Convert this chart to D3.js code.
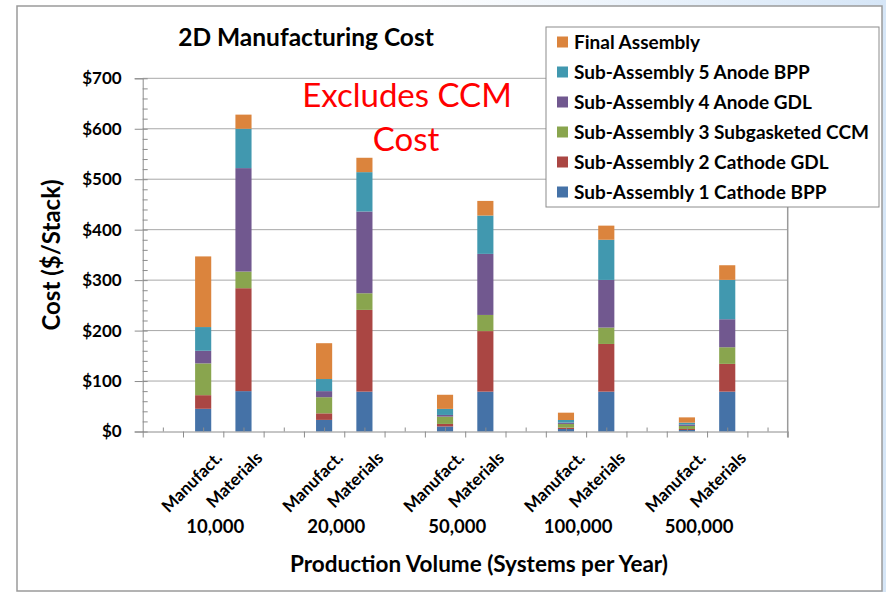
<!DOCTYPE html>
<html>
<head>
<meta charset="utf-8">
<script src="https://cdn.jsdelivr.net/npm/d3@7"></script>
<style>
  body { margin: 0; background: #fff; }
  text { font-family: Lato, "Open Sans", sans-serif; }
</style>
</head>
<body>
<div id="d3_container"></div>
<script>

// data ($/stack)
const volumes = ["10,000", "20,000", "50,000", "100,000", "500,000"];
const kinds = ["Manufact.", "Materials"];
const seriesNames = [
    "Sub-Assembly 1 Cathode BPP",
    "Sub-Assembly 2 Cathode GDL",
    "Sub-Assembly 3 Subgasketed CCM",
    "Sub-Assembly 4 Anode GDL",
    "Sub-Assembly 5 Anode BPP",
    "Final Assembly"
];
// order: 10k manuf, 10k mat, 20k manuf, 20k mat, ...
const cathodeBPP   = [45, 80, 23, 79, 10, 79, 5, 79, 3, 79];
const cathodeGDL   = [27, 204, 13, 162, 5, 120, 2.6, 94.5, 2, 55];
const subgasketCCM = [63, 33, 32, 33, 14.5, 32, 7.4, 32.5, 6, 33];
const anodeGDL     = [25, 205, 12, 162, 3.3, 121, 2.6, 94.4, 3, 55.5];
const anodeBPP     = [47, 78, 24, 78, 12, 76, 5.2, 79.6, 3.5, 78];
const finalAssy    = [140, 28, 71, 28.5, 28, 29, 14.5, 28, 10.5, 29];
const yTicks = [0, 100, 200, 300, 400, 500, 600, 700];

const colors = ["#4572A7", "#AA4643", "#89A54E", "#71588F", "#4198AF", "#DB843D"];
const seriesValues = [cathodeBPP, cathodeGDL, subgasketCCM, anodeGDL, anodeBPP, finalAssy];

const width = 886, height = 592;
const margin = {top: 78.3, bottom: 160.5, left: 142.7, right: 98.3};

const svg = d3.select("#d3_container").append("svg")
    .attr("width", width)
    .attr("height", height);

// slide background + chart frame
const grad = svg.append("defs").append("linearGradient")
    .attr("id", "bg").attr("x1", "0").attr("x2", "1").attr("y1", "0").attr("y2", "0");
grad.append("stop").attr("offset", "0.45").attr("stop-color", "#ffffff");
grad.append("stop").attr("offset", "1").attr("stop-color", "#d6e6f7");
svg.append("rect").attr("width", width).attr("height", height).attr("fill", "url(#bg)");
svg.append("rect")
    .attr("x", 17).attr("y", 6).attr("width", 865).attr("height", 585)
    .attr("fill", "#fff").attr("stroke", "#9a9a9a").attr("stroke-width", 1.5);

// 16 slots: gap, manuf, mat, gap, manuf, mat, ...
const x_scale = d3.scaleBand()
    .domain(d3.range(16))
    .range([margin.left, width - margin.right]);
const x_lin = d3.scaleLinear().domain([0, 16]).range(x_scale.range());
const y_scale = d3.scaleLinear().domain([0, 700]).range([height - margin.bottom, margin.top]);

const rows = [];
volumes.forEach((v, g) => {
    kinds.forEach((k, j) => {
        const i = g * 2 + j;
        const row = {slot: 1 + g * 3 + j, volume: v, kind: k};
        seriesNames.forEach((s, si) => row[s] = seriesValues[si][i]);
        rows.push(row);
    });
});
const stacked = d3.stack().keys(seriesNames)(rows);

// gridlines
svg.append("g")
    .selectAll("line")
    .data(yTicks.filter(d => d > 0))
    .join("line")
    .attr("x1", margin.left).attr("x2", width - margin.right)
    .attr("y1", d => y_scale(d)).attr("y2", d => y_scale(d))
    .attr("stroke", "#a8a8a8").attr("stroke-width", 1);

// bars
const barW = x_scale.bandwidth() * 0.4;
svg.append("g")
    .selectAll("g")
    .data(stacked)
    .join("g")
    .attr("fill", (d, i) => colors[i])
    .selectAll("rect")
    .data(d => d)
    .join("rect")
    .attr("x", d => x_scale(d.data.slot) + (x_scale.bandwidth() - barW) / 2)
    .attr("y", d => y_scale(d[1]))
    .attr("width", barW)
    .attr("height", d => y_scale(d[0]) - y_scale(d[1]));

// y axis
const y_axis = d3.axisLeft(y_scale).tickValues(yTicks).tickSize(8).tickFormat(d => "$" + d);
const gy = svg.append("g")
    .attr("transform", `translate(${margin.left},0)`)
    .call(y_axis);
gy.select(".domain").attr("stroke", "#8c8c8c");
gy.selectAll(".tick line").attr("stroke", "#8c8c8c");
gy.selectAll(".tick text")
    .attr("x", -21)
    .style("font-size", "17px").style("font-weight", "bold").attr("fill", "#000");

const gyMinor = svg.append("g")
    .attr("transform", `translate(${margin.left},0)`)
    .call(d3.axisRight(y_scale).tickValues(d3.range(0, 701, 20)).tickSize(5).tickFormat(""));
gyMinor.select(".domain").remove();
gyMinor.selectAll(".tick line").attr("stroke", "#8c8c8c");

// x axis: major ticks at slot edges, minor at slot centres
const gx = svg.append("g")
    .attr("transform", `translate(0,${y_scale(0)})`)
    .call(d3.axisBottom(x_lin).tickValues(d3.range(17)).tickSize(6).tickSizeOuter(0).tickFormat(""));
gx.select(".domain").attr("stroke", "#8c8c8c");
gx.selectAll(".tick line").attr("stroke", "#8c8c8c");
const gxMinor = svg.append("g")
    .attr("transform", `translate(0,${y_scale(0)})`)
    .call(d3.axisBottom(x_lin).tickValues(d3.range(16).map(d => d + 0.5)).tickSize(-4).tickFormat(""));
gxMinor.select(".domain").remove();
gxMinor.selectAll(".tick line").attr("stroke", "#8c8c8c");

// right edge of the plot
svg.append("line")
    .attr("x1", width - margin.right).attr("x2", width - margin.right)
    .attr("y1", margin.top).attr("y2", y_scale(0) + 6)
    .attr("stroke", "#9a9a9a").attr("stroke-width", 1.5);

// Manufact. / Materials labels
svg.append("g")
    .selectAll("text")
    .data(rows)
    .join("text")
    .attr("transform", d => `translate(${x_scale(d.slot) + x_scale.bandwidth() / 2 + 20},459) rotate(-45)`)
    .attr("text-anchor", "end")
    .style("font-size", "17px").style("font-weight", "bold")
    .text(d => d.kind);

// volume labels under each pair
svg.append("g")
    .selectAll("text")
    .data(volumes)
    .join("text")
    .attr("x", (d, g) => x_scale(1 + g * 3 + 1) - 8)
    .attr("y", 533)
    .attr("text-anchor", "middle")
    .style("font-size", "18.5px").style("font-weight", "bold")
    .text(d => d);

// titles
svg.append("text")
    .attr("x", 306).attr("y", 46)
    .attr("text-anchor", "middle")
    .style("font-size", "24.5px").style("font-weight", "bold")
    .text("2D Manufacturing Cost");

svg.append("text")
    .attr("transform", "translate(60,255) rotate(-90)")
    .attr("text-anchor", "middle")
    .style("font-size", "24px").style("font-weight", "bold")
    .text("Cost ($/Stack)");

svg.append("text")
    .attr("x", 479).attr("y", 572)
    .attr("text-anchor", "middle")
    .style("font-size", "22.5px").style("font-weight", "bold")
    .text("Production Volume (Systems per Year)");

const note = svg.append("text")
    .attr("text-anchor", "middle")
    .attr("fill", "#ff0000")
    .style("font-size", "33px");
note.append("tspan").attr("x", 407).attr("y", 107).text("Excludes CCM");
note.append("tspan").attr("x", 406).attr("y", 151).text("Cost");

// legend (top series first)
const legend = svg.append("g");
legend.append("rect")
    .attr("x", 546).attr("y", 27).attr("width", 333).attr("height", 180)
    .attr("fill", "#fff").attr("stroke", "#8c8c8c");
const li = legend.selectAll("g")
    .data(seriesNames.slice().reverse())
    .join("g")
    .attr("transform", (d, i) => `translate(557,${42 + i * 30})`);
li.append("rect")
    .attr("y", -5.5).attr("width", 11).attr("height", 11)
    .attr("fill", d => colors[seriesNames.indexOf(d)]);
li.append("text")
    .attr("x", 17).attr("dy", "0.36em")
    .style("font-size", "19px").style("font-weight", "bold")
    .text(d => d);

</script>
</body>
</html>
